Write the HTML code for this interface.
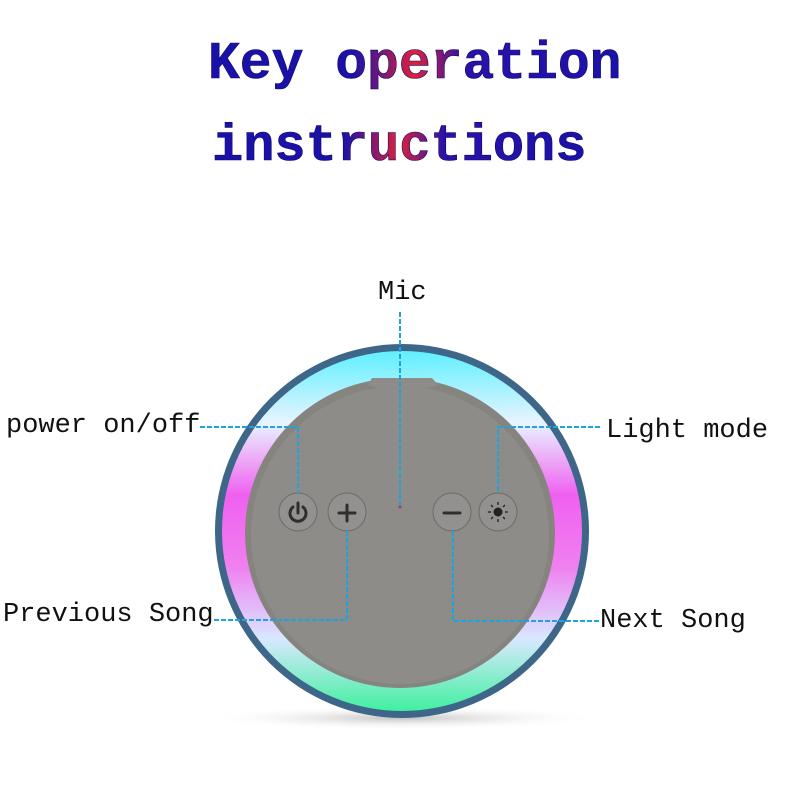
<!DOCTYPE html>
<html><head><meta charset="utf-8"><style>
html,body{margin:0;padding:0;background:#fff;width:800px;height:800px;overflow:hidden}
</style></head><body>
<svg width="800" height="800" viewBox="0 0 800 800" xmlns="http://www.w3.org/2000/svg">
<defs>
<linearGradient id="tg" x1="0" x2="1" y1="0" y2="0">
<stop offset="0" stop-color="#1a12a8"/><stop offset="0.35" stop-color="#1a12a8"/>
<stop offset="0.5" stop-color="#e0203a"/><stop offset="0.62" stop-color="#2a12a8"/><stop offset="1" stop-color="#1a12a8"/>
</linearGradient>
<linearGradient id="ring" x1="0" x2="0" y1="0" y2="1">
<stop offset="0" stop-color="#5ff0ff"/><stop offset="0.2" stop-color="#e8f4ff"/>
<stop offset="0.4" stop-color="#f060f0"/><stop offset="0.6" stop-color="#f080f0"/>
<stop offset="0.8" stop-color="#d8e8ff"/><stop offset="1" stop-color="#40f0a0"/>
</linearGradient>
<radialGradient id="shadow" cx="0.5" cy="0.5" r="0.5">
<stop offset="0" stop-color="#999" stop-opacity="0.6"/><stop offset="1" stop-color="#fff" stop-opacity="0"/>
</radialGradient>
</defs>
<text x="208" y="78" font-family="Liberation Mono, monospace" font-weight="bold" font-size="53" fill="url(#tg)" stroke="#10086a" stroke-width="0.6">Key operation</text>
<text x="212" y="160" font-family="Liberation Mono, monospace" font-weight="bold" font-size="52" fill="url(#tg)" stroke="#10086a" stroke-width="0.6">instructions</text>

<ellipse cx="402" cy="718" rx="200" ry="12" fill="url(#shadow)"/>
<circle cx="402" cy="531" r="187" fill="#3d6688"/>
<circle cx="402" cy="531" r="180" fill="url(#ring)"/>
<circle cx="400" cy="533" r="155" fill="#86847f"/>
<circle cx="400" cy="535" r="149" fill="#8e8c88"/>
<path d="M368 385 L372 378 L432 378 L438 385 Q402 396 368 385 Z" fill="#8e8c88"/>

<g stroke="#6d6b68" stroke-width="1">
<circle cx="298" cy="512" r="19" fill="#939190"/>
<circle cx="347" cy="512" r="19" fill="#939190"/>
<circle cx="452" cy="512" r="19" fill="#939190"/>
<circle cx="498" cy="512" r="19" fill="#939190"/>
</g>
<g stroke="#2e2e2e" stroke-width="3" fill="none" stroke-linecap="round">
<path d="M293 507 A8 8 0 1 0 303 507"/><line x1="298" y1="503" x2="298" y2="513"/>
<line x1="339" y1="513" x2="355" y2="513"/><line x1="347" y1="505" x2="347" y2="521"/>
<line x1="444" y1="513" x2="460" y2="513"/>
</g>
<circle cx="498" cy="512" r="4.5" fill="#222"/>
<g stroke="#222" stroke-width="1.3">
<line x1="498" y1="502" x2="498" y2="505"/><line x1="498" y1="519" x2="498" y2="522"/>
<line x1="488" y1="512" x2="491" y2="512"/><line x1="505" y1="512" x2="508" y2="512"/>
<line x1="491" y1="505" x2="493" y2="507"/><line x1="503" y1="517" x2="505" y2="519"/>
<line x1="505" y1="505" x2="503" y2="507"/><line x1="491" y1="519" x2="493" y2="517"/>
</g>
<circle cx="400" cy="507" r="1.5" fill="#a03090"/>

<g stroke="#1aa4e0" stroke-width="2" fill="none" stroke-dasharray="5 2">
<path d="M400 312 V505"/>
<path d="M200 427 H298 V493"/>
<path d="M600 427 H498 V493"/>
<path d="M347 531 V620 H213"/>
<path d="M453 531 V621 H600"/>
</g>

<g font-family="Liberation Mono, monospace" font-size="27" fill="#111">
<text x="378" y="299">Mic</text>
<text x="6" y="432">power on/off</text>
<text x="606" y="437">Light mode</text>
<text x="3" y="621">Previous Song</text>
<text x="600" y="627">Next Song</text>
</g>
</svg>
</body></html>
